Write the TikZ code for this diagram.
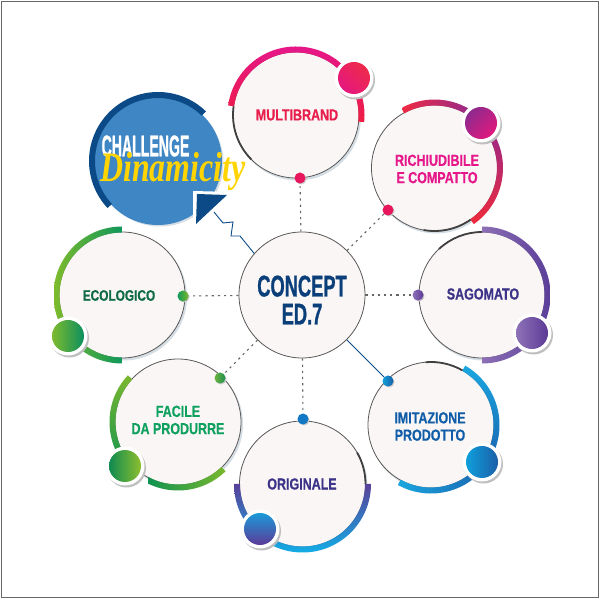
\documentclass[tikz,border=0pt]{standalone}
\usepackage{fontspec}
\setmainfont{Liberation Sans}
\newfontfamily\lab[FakeStretch=0.78,FakeBold=0.5]{Liberation Sans}
\newfontfamily\conc[FakeStretch=0.61,FakeBold=0.8]{Liberation Sans}
\newfontfamily\chal[FakeStretch=0.47,FakeBold=0.8]{Liberation Sans}
\newfontfamily\scr[FakeStretch=0.76]{Liberation Serif}
\definecolor{discfill}{HTML}{FAF6F5}
\definecolor{shadowc}{HTML}{D5DEE4}
\definecolor{navy}{HTML}{0B4A86}
\tikzset{
  disc/.style={circle,draw=black!65,line width=.8pt,fill=discfill,minimum size=126pt,inner sep=0pt},
  labeltxt/.style={inner sep=0pt,align=center,font=\lab\bfseries\fontsize{16}{17.3}\selectfont},
  shadowdisc/.style={circle,fill=shadowc,minimum size=127pt,inner sep=0pt},
  ring/.style={circle,fill=white,minimum size=39pt,inner sep=0pt},
  ringshadow/.style={circle,fill=black!25,minimum size=39pt,inner sep=0pt},
  knob/.style={circle,minimum size=32pt,inner sep=0pt},
  dotnode/.style={circle,minimum size=11pt,inner sep=0pt},
  dotshadow/.style={circle,fill=black!22,minimum size=11pt,inner sep=0pt},
  link/.style={draw=black!60,line width=1.1pt,dash pattern=on 2.2pt off 4pt},
  solidlink/.style={draw=navy,line width=1pt},
  darkarc/.style={draw=black!75,line width=1.8pt}
}
% band segment, in a scope shifted to the circle's centre
\newcommand\bandseg[9]{%
  \begin{scope}
    \definecolor{tmpA}{HTML}{#3}\definecolor{tmpB}{HTML}{#4}%
    \clip (#1:68.5pt) arc[start angle=#1,end angle=#2,radius=68.5pt] -- (#2:62.5pt) arc[start angle=#2,end angle=#1,radius=62.5pt] -- cycle;
    \shade[bottom color=tmpA,top color=tmpB,shading angle=#5] (#6,#7) rectangle (#8,#9);
  \end{scope}}
% ring + gradient knob
\newcommand\knobat[6]{%
  \definecolor{tmpA}{HTML}{#4}\definecolor{tmpB}{HTML}{#5}%
  \node[ringshadow] at (#2+1.5,#3-2) {};
  \node[ring] at (#2,#3) {};
  \node[knob,bottom color=tmpA,top color=tmpB,shading angle=#6] (#1) at (#2,#3) {};}
\newcommand\dotat[6]{%
  \definecolor{tmpA}{HTML}{#4}\definecolor{tmpB}{HTML}{#5}%
  \node[dotshadow] at (#2+1,#3-1) {};
  \node[dotnode,bottom color=tmpA,top color=tmpB,shading angle=#6] (#1) at (#2,#3) {};}
\begin{document}
\begin{tikzpicture}[x=1pt,y=1pt]
\useasboundingbox (0,0) rectangle (600,600);
\fill[white] (0,0) rectangle (600,600);
\draw[black!60,line width=1pt] (1.5,2) rectangle (598,598.5);

% MULTIBRAND
\node[shadowdisc] at (297.5,483) {};
\node[disc] (multi) at (296,485) {};
\begin{scope}[shift={(296,485)}]
  \draw[darkarc] (172:63pt) arc[start angle=172,end angle=225,radius=63pt];
  \bandseg{172}{-6}{EE1C42}{E6178A}{0}{-70}{-8}{70}{70}
\end{scope}
\knobat{multik}{354}{522}{E5187F}{EE2A4A}{-45}
\dotat{multid}{300}{422}{E8175D}{E8175D}{0}
\node[labeltxt,text={rgb,255:red,232;green,30;blue,76}] (multit) at (297,485) {MULTIBRAND};

% RICHIUDIBILE
\node[shadowdisc] at (436,430) {};
\node[disc] (rich) at (434.5,432) {};
\begin{scope}[shift={(434.5,432)}]
  \draw[darkarc] (-55:63pt) arc[start angle=-55,end angle=-100,radius=63pt];
  \bandseg{119}{50}{EE2A45}{932A8C}{-90}{-32}{0}{40}{70}
  \bandseg{50}{-55}{EF2B3C}{92278F}{0}{0}{-56}{70}{50}
\end{scope}
\knobat{richk}{481}{477}{8E2A8E}{E0197D}{-135}
\dotat{richd}{388}{390}{E8175D}{E8175D}{0}
\node[labeltxt,text={rgb,255:red,230;green,23;blue,138}] (richt) at (437,431) {RICHIUDIBILE\\E COMPATTO};

% SAGOMATO
\node[shadowdisc] at (483.5,303) {};
\node[disc] (sago) at (482,305) {};
\begin{scope}[shift={(482,305)}]
  \draw[darkarc] (90:63pt) arc[start angle=90,end angle=133,radius=63pt];
  \bandseg{90}{-90}{8C6FB5}{5B3E98}{-90}{0}{-70}{68}{70}
\end{scope}
\knobat{sagok}{532}{267}{8E72B7}{5B3A96}{-90}
\dotat{sagod}{418}{305}{8E72B7}{5B3A96}{-90}
\node[labeltxt,text={rgb,255:red,60;green,52;blue,136}] (sagot) at (483,306) {SAGOMATO};

% IMITAZIONE
\node[shadowdisc] at (432.5,173) {};
\node[disc] (imit) at (431,175) {};
\begin{scope}[shift={(431,175)}]
  \draw[darkarc] (60:63pt) arc[start angle=60,end angle=95,radius=63pt];
  \bandseg{60}{-30}{1A6AB4}{1AA7E0}{0}{0}{-30}{70}{60}
  \bandseg{-30}{-119}{1AA7E0}{1A6AB4}{-90}{-35}{-70}{50}{0}
\end{scope}
\knobat{imitk}{482}{138}{0F9FDB}{1B5FA8}{-90}
\dotat{imitd}{388}{219}{0F9FDB}{1B5FA8}{-90}
\node[labeltxt,text={rgb,255:red,15;green,92;blue,168}] (imitt) at (430,173.5) {IMITAZIONE\\PRODOTTO};

% ORIGINALE
\node[shadowdisc] at (304,114) {};
\node[disc] (orig) at (302.5,116) {};
\begin{scope}[shift={(302.5,116)}]
  \draw[darkarc] (0:63pt) arc[start angle=0,end angle=30,radius=63pt];
  \bandseg{180}{360}{12ADE6}{5A3F98}{0}{-70}{-69}{70}{1}
\end{scope}
\knobat{origk}{260}{71}{5C3A98}{1C9AD8}{0}
\dotat{origd}{303}{181}{1277C5}{1277C5}{0}
\node[labeltxt,text={rgb,255:red,59;green,51;blue,136}] (origt) at (302,116) {ORIGINALE};

% FACILE
\node[shadowdisc] at (179.5,176) {};
\node[disc] (faci) at (178,178) {};
\begin{scope}[shift={(178,178)}]
  \bandseg{137}{225}{0F9350}{79B72F}{0}{-70}{-50}{0}{46}
  \bandseg{225}{314}{0F9350}{7AB82E}{-90}{-30}{-70}{48}{0}
\end{scope}
\knobat{facik}{125}{134}{0E8A50}{8DBF2F}{-90}
\dotat{facid}{220}{222}{6CB33F}{1E8F4E}{-90}
\node[labeltxt,text={rgb,255:red,13;green,160;blue,95}] (facit) at (178,180) {FACILE\\DA PRODURRE};

% ECOLOGICO
\node[shadowdisc] at (123.5,303) {};
\node[disc] (ecol) at (122,305) {};
\begin{scope}[shift={(122,305)}]
  \bandseg{90}{270}{7DBB2B}{0E975B}{-90}{-68}{-70}{0}{70}
\end{scope}
\knobat{ecolk}{68}{264}{7FBA2E}{0B8F5E}{-90}
\dotat{ecold}{183}{304}{0F9A5B}{7AB829}{-90}
\node[labeltxt,font=\lab\bfseries\fontsize{15.2}{17}\selectfont,text={rgb,255:red,15;green,107;blue,69}] (ecolt) at (119,304.5) {ECOLOGICO};

% CHALLENGE
\node[shadowdisc] at (160,437) {};
\node[circle,fill={rgb,255:red,63;green,134;blue,196},minimum size=128pt,inner sep=0pt] (chal) at (158,439) {};
\begin{scope}[shift={(158,439)}]
  \begin{scope}
    \clip (46:69pt) arc[start angle=46,end angle=223,radius=69pt] -- (223:63pt) arc[start angle=223,end angle=46,radius=63pt] -- cycle;
    \fill[navy] (-72,-72) rectangle (72,72);
  \end{scope}
\end{scope}
\coordinate (wa) at (193,409);
\coordinate (wb) at (232,408);
\coordinate (wc) at (193,373);
\fill[white] (wa) -- (wb) -- (wc) -- cycle;
\coordinate (na) at (197,406);
\coordinate (nb) at (227,405);
\coordinate (nc) at (196,376);
\fill[navy] (na) -- (nb) -- (nc) -- cycle;
\node[text=white,inner sep=0pt,font=\chal\bfseries\fontsize{30}{30}\selectfont] (chaltxt) at (145.5,454) {CHALLENGE};
\node[text={rgb,255:red,255;green,212;blue,0},inner sep=0pt,font=\scr\bfseries\itshape\fontsize{42}{42}\selectfont] (dintxt) at (173,429) {Dinamicity};

% CONCEPT
\node[disc] (center) at (302,305) {};
\node[labeltxt,font=\conc\bfseries\fontsize{30}{28}\selectfont,text={rgb,255:red,11;green,63;blue,122}] (centert) at (302,300) {CONCEPT\\ED.7};

% connectors
\path[link] (center) -- (multid);
\path[link] (center) -- (richd);
\path[link] (center) -- (sagod);
\path[link] (center) -- (origd);
\path[link] (center) -- (facid);
\path[link] (center) -- (ecold);
\path[solidlink] (center) -- (imitd);
\coordinate (zz1) at (214,388);
\path[solidlink,line width=.9pt] (center.139) -- (240,364) -- (231,364) -- (233,378) -- (223,377) -- (zz1);
\end{tikzpicture}
\end{document}
